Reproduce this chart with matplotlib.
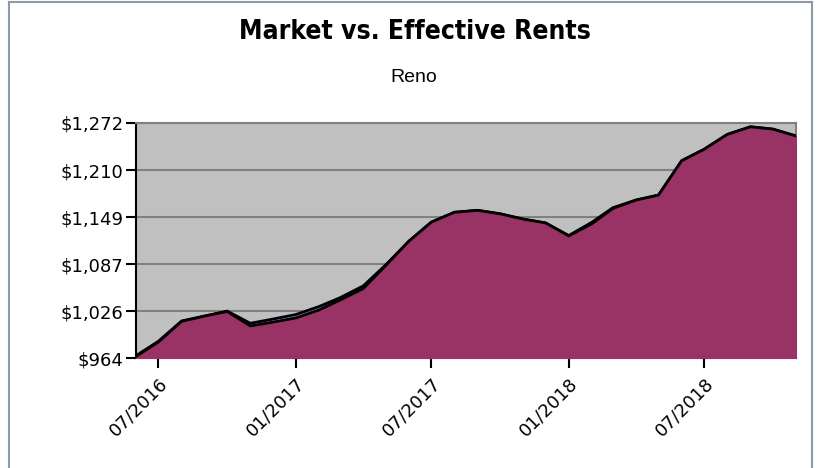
import numpy as np
import pandas as pd
import matplotlib
matplotlib.use("Agg")
import matplotlib.pyplot as plt
import matplotlib.dates as mdates
from matplotlib.lines import Line2D

# monthly data, 06/2016 .. 11/2018
months = pd.date_range("2016-06-01", "2018-11-01", freq="MS")
market = [967, 986, 1012.5, 1019, 1025.5, 1009.5, 1015, 1021, 1031.5, 1043,
          1058.5, 1086, 1117, 1142, 1155, 1157.5, 1153, 1146, 1141, 1124.5,
          1142, 1161, 1171, 1177.5, 1222.5, 1237.5, 1257, 1267, 1264, 1255]
effective = [966, 985, 1012, 1019, 1025, 1006, 1011, 1016.5, 1027, 1040,
             1055, 1085, 1117, 1142, 1155, 1157.5, 1153, 1146, 1141, 1124,
             1140, 1160, 1171, 1177.5, 1222.5, 1237.5, 1257, 1267, 1264, 1255]
y_ticks = [964, 1025.6, 1087.2, 1148.8, 1210.4, 1272]
y_labels = ["$964", "$1,026", "$1,087", "$1,149", "$1,210", "$1,272"]
x_ticks = pd.to_datetime(["2016-07-01", "2017-01-01", "2017-07-01", "2018-01-01", "2018-07-01"])
x_labels = ["07/2016", "01/2017", "07/2017", "01/2018", "07/2018"]

fig = plt.figure(figsize=(8.24, 4.68), dpi=100)
ax = fig.add_axes([136 / 824, 110 / 468, 660 / 824, 235 / 468])
ax.set_facecolor("#C0C0C0")

base = y_ticks[0]
ax.fill_between(months, base, market, color="#9999FF", zorder=2)
ax.plot(months, market, color="black", lw=2.0, zorder=3)
ax.fill_between(months, base, effective, color="#993366", zorder=4)
ax.plot(months, effective, color="black", lw=2.0, zorder=5)

ax.set_xlim(months[0], months[-1])
ax.set_ylim(y_ticks[0], y_ticks[-1])
ax.set_yticks(y_ticks)
ax.set_yticklabels(y_labels)
ax.set_xticks(x_ticks)
ax.set_xticklabels(x_labels, rotation=45, ha="right", rotation_mode="anchor")
ax.grid(axis="y", color="#808080", lw=1.5, zorder=1)
ax.set_axisbelow(True)

for s in ["left", "bottom"]:
    ax.spines[s].set_color("black")
    ax.spines[s].set_linewidth(1.5)
for s in ["top", "right"]:
    ax.spines[s].set_color("#808080")
    ax.spines[s].set_linewidth(1.5)
ax.tick_params(axis="both", direction="out", length=7, width=1.5, labelsize=13, color="black")
ax.tick_params(axis="y", pad=2)
ax.tick_params(axis="x", pad=5)

fig.text(415 / 824, 1 - 32 / 468, "Market vs. Effective Rents", ha="center", va="center",
         fontsize=19, fontweight="bold", family="DejaVu Sans", fontstretch="condensed")
fig.text(414 / 824, 1 - 77 / 468, "Reno", ha="center", va="center",
         fontsize=14, family="Liberation Sans")

# outer border of the chart
bc = "#8C9AAA"
x0, x1, yt = 9 / 824, 812 / 824, 1 - 1.5 / 468
fig.add_artist(Line2D([x0, x0], [0, yt], color=bc, lw=1.5, transform=fig.transFigure))
fig.add_artist(Line2D([x1, x1], [0, yt], color=bc, lw=1.5, transform=fig.transFigure))
fig.add_artist(Line2D([x0, x1], [yt, yt], color=bc, lw=1.5, transform=fig.transFigure))

fig.savefig("out.png", dpi=100)
